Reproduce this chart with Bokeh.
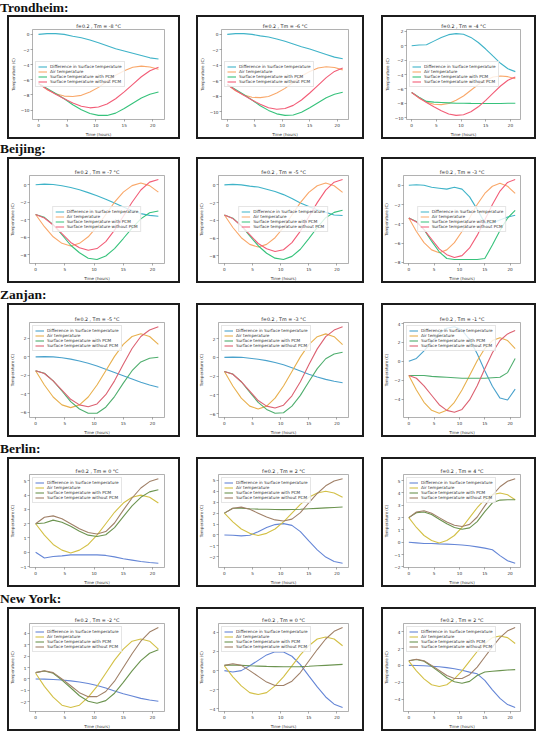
from bokeh.plotting import figure
from bokeh.models import Div, Spacer, FixedTicker
from bokeh.layouts import column, row
from bokeh.embed import file_html
from bokeh.resources import INLINE

# ---------------- data ----------------
hours = [0, 1.5, 3, 4.5, 6, 7.5, 9, 10.5, 12, 13.5, 15, 16.5, 18, 19.5, 21]
xticks = [0, 5, 10, 15, 20]
series_names = ["Difference in Surface temperature", "Air temperature",
                "Surface temperature with PCM", "Surface temperature without PCM"]
city_names = ["Trondheim:", "Beijing:", "Zanjan:", "Berlin:", "New York:"]

# Trondheim
tr_tm = [-8, -6, -4]
tr_air = [-6.5, -7.3, -7.85, -8.15, -8.2, -8.05, -7.6, -7.0, -6.2, -5.4, -4.8, -4.35, -4.2, -4.3, -4.6]
tr_without = [-6.5, -7.25, -7.9, -8.5, -9.05, -9.5, -9.7, -9.6, -9.2, -8.5, -7.6, -6.6, -5.6, -4.8, -4.35]
tr_with = [
    [-6.5, -7.15, -7.8, -8.5, -9.3, -9.95, -10.45, -10.7, -10.7, -10.4, -9.8, -9.1, -8.4, -7.9, -7.6],
    [-6.5, -7.15, -7.8, -8.5, -9.25, -9.85, -10.3, -10.5, -10.45, -10.1, -9.5, -8.85, -8.2, -7.75, -7.5],
    [-6.5, -7.15, -7.75, -7.85, -7.9, -7.95, -8.0, -8.0, -8.03, -8.04, -8.05, -8.05, -8.04, -8.0, -8.0],
]
tr_diff = [
    [0, 0.1, 0.1, 0.0, -0.25, -0.45, -0.75, -1.1, -1.5, -1.9, -2.2, -2.5, -2.8, -3.1, -3.25],
    [0, 0.1, 0.1, 0.0, -0.2, -0.35, -0.6, -0.9, -1.25, -1.6, -1.9, -2.25, -2.6, -2.95, -3.15],
    [0, 0.1, 0.15, 0.65, 1.15, 1.55, 1.7, 1.6, 1.17, 0.46, -0.45, -1.45, -2.44, -3.2, -3.6],
]
tr_yticks = [[-10, -8, -6, -4, -2, 0], [-10, -8, -6, -4, -2, 0], [-10, -8, -6, -4, -2, 0, 2]]

# Beijing
bj_tm = [-7, -5, -3]
bj_air = [-3.4, -4.8, -5.95, -6.7, -7.0, -6.7, -5.95, -4.8, -3.4, -2.0, -0.85, -0.1, 0.2, -0.1, -0.85]
bj_without = [-3.4, -3.8, -4.6, -5.6, -6.6, -7.2, -7.5, -7.3, -6.5, -5.2, -3.6, -2.0, -0.6, 0.3, 0.6]
bj_with = [
    [-3.4, -3.73, -4.57, -5.72, -6.92, -7.78, -8.4, -8.55, -8.15, -7.3, -6.15, -4.95, -3.9, -3.2, -3.0],
    [-3.4, -3.75, -4.6, -5.75, -6.85, -7.7, -8.25, -8.4, -8.05, -7.25, -6.05, -4.8, -3.7, -3.1, -2.85],
    [-3.4, -3.75, -4.6, -5.8, -6.9, -7.6, -7.7, -7.7, -7.7, -7.7, -7.6, -6.2, -4.7, -3.4, -2.6],
]
bj_diff = [
    [0, 0.07, 0.03, -0.12, -0.32, -0.58, -0.9, -1.25, -1.65, -2.1, -2.55, -2.95, -3.3, -3.5, -3.6],
    [0, 0.05, 0.0, -0.15, -0.25, -0.5, -0.75, -1.1, -1.55, -2.05, -2.45, -2.8, -3.1, -3.4, -3.45],
    [0, 0.05, 0.0, -0.2, -0.3, -0.4, -0.2, -0.4, -1.2, -2.5, -3.9, -3.9, -3.6, -3.3, -3.1],
]
bj_yticks = [[-8, -6, -4, -2, 0]] * 3

# Zanjan
zj_tm = [-5, -3, -1]
zj_air = [-1.5, -3.05, -4.35, -5.2, -5.5, -5.2, -4.35, -3.05, -1.5, 0.05, 1.35, 2.2, 2.5, 2.2, 1.35]
zj_without = [-1.5, -1.8, -2.6, -3.6, -4.6, -5.2, -5.4, -5.1, -4.1, -2.6, -0.8, 0.9, 2.2, 2.9, 3.25]
zj_with = [
    [-1.5, -1.78, -2.6, -3.7, -4.85, -5.65, -6.1, -6.1, -5.45, -4.3, -2.85, -1.5, -0.55, -0.15, -0.05],
    [-1.5, -1.78, -2.6, -3.7, -4.8, -5.55, -5.95, -5.9, -5.2, -4.05, -2.6, -1.2, -0.15, 0.35, 0.55],
    [-1.5, -1.5, -1.5, -1.6, -1.65, -1.7, -1.75, -1.8, -1.8, -1.8, -1.8, -1.75, -1.7, -1.2, 0.3],
]
zj_diff = [
    [0, 0.02, 0.0, -0.1, -0.25, -0.45, -0.7, -1.0, -1.35, -1.7, -2.05, -2.4, -2.75, -3.05, -3.3],
    [0, 0.02, 0.0, -0.1, -0.2, -0.35, -0.55, -0.8, -1.1, -1.45, -1.8, -2.1, -2.35, -2.55, -2.7],
    [0, 0.3, 1.1, 2.0, 2.95, 3.5, 3.65, 3.3, 2.3, 0.8, -1.0, -2.65, -3.9, -4.1, -2.95],
]
zj_yticks = [[-6, -4, -2, 0, 2], [-6, -4, -2, 0, 2], [-4, -2, 0, 2, 4]]

# Berlin
bl_tm = [0, 2, 4]
bl_air = [2.0, 1.2, 0.55, 0.15, -0.05, 0.15, 0.55, 1.2, 2.0, 2.8, 3.45, 3.85, 4.0, 3.85, 3.45]
bl_without = [2.0, 2.45, 2.55, 2.35, 2.0, 1.65, 1.38, 1.28, 1.45, 2.05, 2.95, 3.8, 4.5, 4.95, 5.15]
bl_with = [
    [2.0, 2.05, 2.25, 2.1, 1.82, 1.47, 1.2, 1.1, 1.23, 1.73, 2.5, 3.25, 3.85, 4.23, 4.38],
    [2.0, 2.45, 2.45, 2.4, 2.37, 2.35, 2.33, 2.32, 2.33, 2.36, 2.4, 2.44, 2.48, 2.52, 2.56],
    [2.0, 2.4, 2.45, 2.25, 1.87, 1.5, 1.2, 1.06, 1.17, 1.68, 2.48, 3.2, 3.42, 3.45, 3.45],
]
bl_diff = [
    [0, -0.4, -0.3, -0.25, -0.18, -0.18, -0.18, -0.18, -0.22, -0.32, -0.45, -0.55, -0.65, -0.72, -0.77],
    [0, -0.03, -0.08, -0.02, 0.3, 0.68, 0.95, 1.04, 0.88, 0.31, -0.55, -1.36, -2.02, -2.43, -2.59],
    [0, -0.05, -0.1, -0.1, -0.13, -0.15, -0.18, -0.22, -0.28, -0.37, -0.47, -0.6, -1.08, -1.5, -1.7],
]
bl_yticks = [[-1, 0, 1, 2, 3, 4, 5], [-2, -1, 0, 1, 2, 3, 4, 5], [-2, -1, 0, 1, 2, 3, 4, 5]]

# New York
ny_tm = [-2, 0, 2]
ny_air = [0.5, -0.65, -1.6, -2.3, -2.5, -2.3, -1.6, -0.65, 0.5, 1.65, 2.6, 3.3, 3.5, 3.3, 2.6]
ny_without = [0.55, 0.72, 0.55, 0.0, -0.6, -1.2, -1.55, -1.55, -1.1, -0.2, 1.0, 2.2, 3.3, 4.1, 4.5]
ny_with = [
    [0.55, 0.7, 0.5, -0.1, -0.77, -1.47, -1.95, -2.13, -1.9, -1.25, -0.3, 0.7, 1.6, 2.25, 2.55],
    [0.55, 0.58, 0.55, 0.5, 0.47, 0.44, 0.42, 0.4, 0.4, 0.42, 0.45, 0.5, 0.55, 0.6, 0.65],
    [0.55, 0.7, 0.5, -0.1, -0.77, -1.47, -1.95, -2.13, -1.9, -1.2, -0.78, -0.7, -0.62, -0.55, -0.5],
]
ny_diff = [
    [0, -0.02, -0.05, -0.1, -0.17, -0.27, -0.4, -0.58, -0.8, -1.05, -1.3, -1.5, -1.7, -1.85, -1.95],
    [0, -0.14, 0.0, 0.5, 1.07, 1.64, 1.97, 1.95, 1.5, 0.62, -0.55, -1.7, -2.75, -3.5, -3.85],
    [0, -0.02, -0.05, -0.1, -0.17, -0.27, -0.4, -0.58, -0.8, -1.0, -1.78, -2.9, -3.92, -4.65, -5.0],
]
ny_yticks = [[-2, -1, 0, 1, 2, 3, 4], [-4, -2, 0, 2, 4], [-4, -2, 0, 2, 4]]

# ---------------- styling ----------------
pal_a = ["#3fb3c8", "#f9a86a", "#36c27b", "#f25d77"]
pal_z = ["#4aa2cc", "#e8b04e", "#4fae6e", "#dc6272"]
pal_b = ["#6586d6", "#d3c046", "#6c9450", "#a08068"]

city_rows = [
    (tr_tm, tr_diff, tr_air, tr_with, tr_without, tr_yticks, pal_a, "center_left", 124, 14, 14),
    (bj_tm, bj_diff, bj_air, bj_with, bj_without, bj_yticks, pal_a, "center", 126, 18, 12),
    (zj_tm, zj_diff, zj_air, zj_with, zj_without, zj_yticks, pal_z, "top_left", 134, 19, 14),
    (bl_tm, bl_diff, bl_air, bl_with, bl_without, bl_yticks, pal_b, "top_left", 130, 17, 13),
    (ny_tm, ny_diff, ny_air, ny_with, ny_without, ny_yticks, pal_b, "top_left", 124, 16, 15),
]
widths = [173, 168, 155]
gaps = [7, 16, 17]
title_heights = [15, 18, 20, 20, 20]
FONT = "DejaVu Sans"


def make_panel(w, h, tm, diff, air, wpcm, wopcm, yticks, pal, loc, top, bottom):
    p = figure(width=w, height=h, output_backend="svg", toolbar_location=None,
               title=f"f=0.2 , Tm = {tm} °C",
               min_border_left=21, min_border_right=16,
               min_border_top=top, min_border_bottom=bottom)
    p.margin = (0, 0, 0, 0)
    p.styles = {"box-shadow": "inset 0 0 0 2px #1c1c1c", "background": "white"}
    p.background_fill_color = "white"
    p.border_fill_color = None
    p.outline_line_color = "#8f8f8f"
    p.outline_line_width = 0.7
    p.grid.visible = False
    p.title.text_font = FONT
    p.title.text_font_size = "4.8px"
    p.title.text_font_style = "normal"
    p.title.align = "center"
    p.title.standoff = 2
    p.title.text_color = "#222222"
    for vals, name, col in zip([diff, air, wpcm, wopcm], series_names, pal):
        p.line(hours, vals, line_color=col, line_width=1.1, legend_label=name)
    p.xaxis.ticker = FixedTicker(ticks=xticks)
    p.yaxis.ticker = FixedTicker(ticks=yticks)
    p.yaxis.major_label_overrides = {t: (str(t).replace("-", "\u2212")) for t in yticks}
    p.xaxis.axis_label = "Time (hours)"
    p.yaxis.axis_label = "Temperature (C)"
    for ax in (p.xaxis, p.yaxis):
        ax.axis_line_color = None
        ax.major_label_text_font = FONT
        ax.major_label_text_font_size = "4.2px"
        ax.major_label_text_color = "#333333"
        ax.axis_label_text_font = FONT
        ax.axis_label_text_font_size = "4px"
        ax.axis_label_text_font_style = "normal"
        ax.axis_label_text_color = "#333333"
        ax.minor_tick_line_color = None
        ax.major_tick_out = 2
        ax.major_tick_in = 0
        ax.major_tick_line_width = 0.5
        ax.major_tick_line_color = "#555555"
        ax.major_label_standoff = 1
        ax.axis_label_standoff = 2
    lg = p.legend[0]
    lg.location = loc
    lg.label_text_font = FONT
    lg.label_text_font_size = "4.2px"
    lg.label_text_color = "#333333"
    lg.glyph_height = 5
    lg.glyph_width = 9
    lg.label_height = 5
    lg.label_standoff = 3
    lg.spacing = 0
    lg.padding = 2
    lg.margin = 3
    lg.border_line_color = "#cccccc"
    lg.border_line_width = 0.5
    lg.background_fill_alpha = 0.8
    lg.click_policy = "none"
    return p


children = []
for i, (tms, diffs, air, withs, without, yts, pal, loc, h, top, bottom) in enumerate(city_rows):
    th = title_heights[i]
    pad = th - 15
    children.append(Div(
        text=f'<div style="margin-top:{pad}px;font-family:\'Liberation Serif\';font-weight:bold;'
             f'font-size:13.5px;line-height:14px;color:#111;">{city_names[i]}</div>',
        width=300, height=th, margin=(0, 0, 0, 0)))
    items = []
    for j in range(3):
        items.append(Spacer(width=gaps[j], height=h, margin=(0, 0, 0, 0)))
        items.append(make_panel(widths[j], h, tms[j], diffs[j], air, withs[j], without,
                                yts[j], pal, loc, top, bottom))
    children.append(row(*items, spacing=0))

layout = column(*children, spacing=0)
open("out.html", "w").write(file_html(layout, INLINE))
